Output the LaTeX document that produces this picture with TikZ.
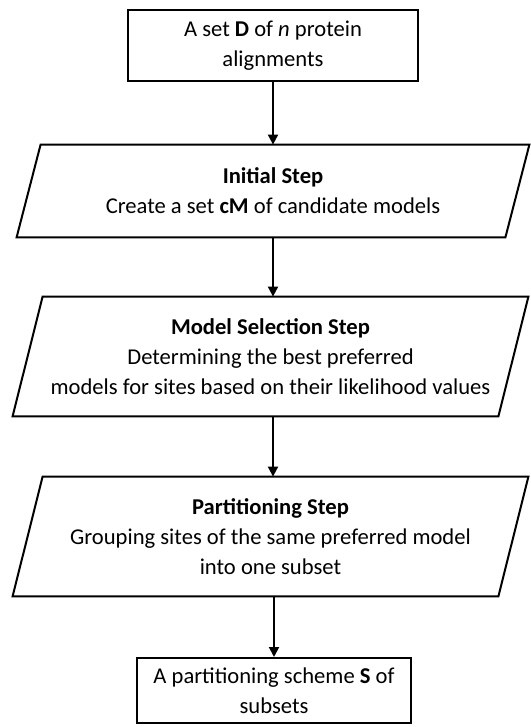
\documentclass[tikz,border=0pt]{standalone}
\usepackage{fontspec}
\setmainfont{Carlito}
\usetikzlibrary{arrows.meta}
\begin{document}
\begin{tikzpicture}[x=0.5pt,y=-0.5pt,
  txt/.style={font=\fontsize{11.3}{15}\selectfont, align=center, inner sep=0pt},
  termbox/.style={txt, draw, line width=1pt, rectangle},
  parabox/.style={txt, rectangle},
  outline/.style={line width=1pt, line join=miter},
  flow/.style={line width=1pt, -{Triangle[length=5pt,width=5pt]}}]
\useasboundingbox (0,0) rectangle (530,727);

\node[termbox, minimum width=145pt, minimum height=35.5pt] (start) at (273,45.5)
  {A set \textbf{D} of \textit{n} protein\\alignments};

\node[parabox, minimum width=244pt, minimum height=46pt] (p1) at (273,191)
  {\textbf{Initial Step}\\Create a set \textbf{cM} of candidate models};
\draw[outline] ([xshift=6pt]p1.north west) -- ([xshift=6pt]p1.north east)
  -- ([xshift=-6pt]p1.south east) -- ([xshift=-6pt]p1.south west) -- cycle;

\node[parabox, minimum width=242.5pt, minimum height=59.5pt] (p2) at (270.5,356.5)
  {\textbf{Model Selection Step}\\Determining the best preferred\\models for sites based on their likelihood values};
\draw[outline] ([xshift=7.5pt]p2.north west) -- ([xshift=7.5pt]p2.north east)
  -- ([xshift=-7.5pt]p2.south east) -- ([xshift=-7.5pt]p2.south west) -- cycle;

\node[parabox, minimum width=242.5pt, minimum height=59.5pt] (p3) at (270.5,536.5)
  {\textbf{Partitioning Step}\\Grouping sites of the same preferred model\\into one subset};
\draw[outline] ([xshift=7.5pt]p3.north west) -- ([xshift=7.5pt]p3.north east)
  -- ([xshift=-7.5pt]p3.south east) -- ([xshift=-7.5pt]p3.south west) -- cycle;

\node[termbox, minimum width=137pt, minimum height=32.5pt] (end) at (274,690.5)
  {A partitioning scheme \textbf{S} of\\subsets};

\draw[flow] (start.south) -- (start.south |- p1.north);
\draw[flow] (p1.south) -- (p1.south |- p2.north);
\draw[flow] (p2.south -| p1.south) -- (p1.south |- p3.north);
\draw[flow] (p3.south -| end.north) -- (end.north);
\end{tikzpicture}
\end{document}
